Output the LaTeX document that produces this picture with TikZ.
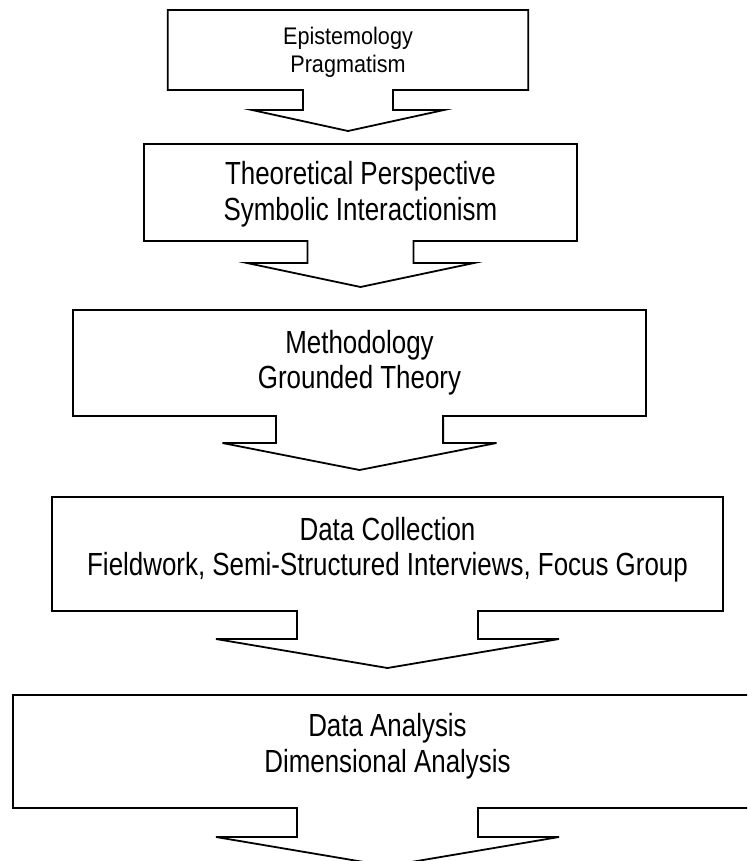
\documentclass[tikz,border=0pt]{standalone}
\usepackage{fontspec}
\setmainfont{Liberation Sans}
\newfontfamily\smallfont[FakeStretch=0.9]{Liberation Sans}
\newfontfamily\narrowfont[FakeStretch=0.81]{Liberation Sans}
\tikzset{
  flowshape/.style={draw=black, line width=1.8pt, line join=miter, fill=white},
  lineA/.style={font=\smallfont\fontsize{24pt}{28pt}\selectfont, anchor=base, inner sep=0pt},
  lineB/.style={font=\narrowfont\fontsize{32pt}{35pt}\selectfont, anchor=base, inner sep=0pt},
}
% cx, half width, top, bottom, stem half width, head half width, head y, tip y
\newcommand{\calloutshape}[8]{%
  \draw[flowshape] ({#1-#2},#3) -- ({#1+#2},#3) -- ({#1+#2},#4) -- ({#1+#5},#4)
    -- ({#1+#5},#7) -- ({#1+#6},#7) -- (#1,#8) -- ({#1-#6},#7) -- ({#1-#5},#7)
    -- ({#1-#5},#4) -- ({#1-#2},#4) -- cycle;}
\begin{document}
\begin{tikzpicture}[x=1pt,y=-1pt]
\useasboundingbox (0,0) rectangle (747,861);
\clip (0,0) rectangle (747,861);
% shapes
\calloutshape{348}{180.25}{10}{90}{45}{96}{110}{131}
\calloutshape{360.5}{216.5}{144}{241}{53}{113.5}{263}{287}
\calloutshape{359.5}{286.5}{310}{416}{83.6}{137}{443}{470}
\calloutshape{387.5}{335.5}{497}{611}{90.5}{171.5}{639}{668}
\calloutshape{387.5}{374.5}{695}{808}{90.5}{171.5}{837}{866}
% texts
\node[lineA] (t1a) at (348,45) {Epistemology};
\node[lineA] (t1b) at (348,73) {Pragmatism};
\node[lineB] (t2a) at (360.5,185) {Theoretical Perspective};
\node[lineB] (t2b) at (360.5,220) {Symbolic Interactionism};
\node[lineB] (t3a) at (359.5,353) {Methodology};
\node[lineB] (t3b) at (359.5,388) {Grounded Theory};
\node[lineB] (t4a) at (387.5,540) {Data Collection};
\node[lineB] (t4b) at (387.5,575) {Fieldwork, Semi-Structured Interviews, Focus Group};
\node[lineB] (t5a) at (387.5,736) {Data Analysis};
\node[lineB] (t5b) at (387.5,772) {Dimensional Analysis};
\end{tikzpicture}
\end{document}
